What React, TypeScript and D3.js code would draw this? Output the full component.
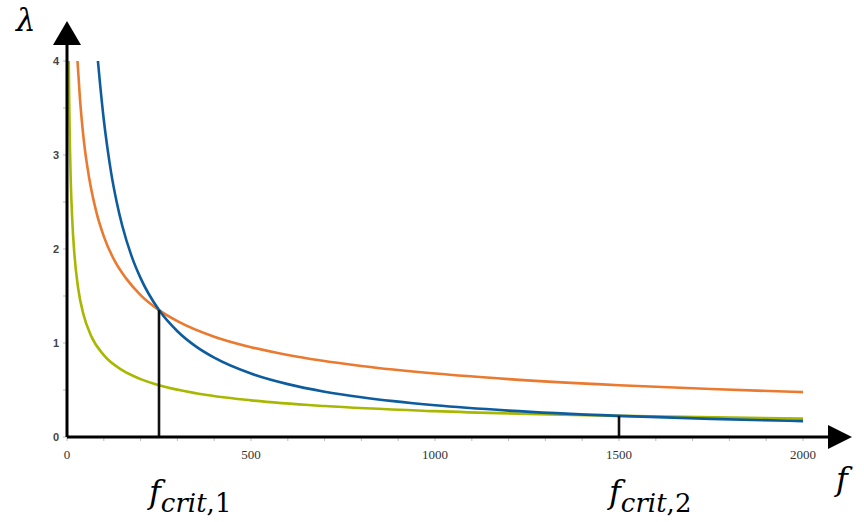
import React from "react";
import * as d3 from "d3";

// curves: [f, lambda]
const blue: [number, number][] = [
    [84, 4.0], [90, 3.75], [100, 3.375], [110, 3.07], [120, 2.81], [135, 2.5],
    [150, 2.25], [175, 1.93], [200, 1.69], [250, 1.35], [300, 1.125], [350, 0.964],
    [400, 0.844], [500, 0.675], [600, 0.5625], [700, 0.482], [800, 0.422],
    [1000, 0.3375], [1200, 0.281], [1500, 0.225], [1750, 0.193], [2000, 0.169],
];
const orange: [number, number][] = [
    [28.5, 4.0], [35, 3.61], [45, 3.18], [60, 2.76], [80, 2.39], [100, 2.135],
    [130, 1.87], [160, 1.69], [200, 1.51], [250, 1.35], [300, 1.233], [400, 1.067],
    [500, 0.955], [600, 0.872], [800, 0.755], [1000, 0.675], [1200, 0.616],
    [1500, 0.551], [1750, 0.51], [2000, 0.477],
];
const green: [number, number][] = [
    [4.74, 4.0], [6, 3.56], [8, 3.08], [10, 2.75], [14, 2.33], [20, 1.95],
    [30, 1.59], [45, 1.3], [65, 1.08], [100, 0.871], [150, 0.711], [200, 0.616],
    [250, 0.551], [350, 0.466], [500, 0.39], [700, 0.329], [1000, 0.275],
    [1500, 0.225], [2000, 0.195],
];

// critical points (f, lambda)
const crits: [number, number][] = [[250, 1.35], [1500, 0.225]];
const critLabels = ["1", "2"];

const xTicks = [0, 500, 1000, 1500, 2000];
const yTicks = [0, 1, 2, 3, 4];

const W = 864, H = 522;
const x0 = 67, x1 = 803, y0 = 437, y1 = 61;
const mathFont = "DejaVu Serif";

export default function App() {
    const x = d3.scaleLinear().domain([0, 2000]).range([x0, x1]);
    const y = d3.scaleLinear().domain([0, 4]).range([y0, y1]);
    const line = d3.line<[number, number]>()
        .x(d => x(d[0]))
        .y(d => y(d[1]))
        .curve(d3.curveMonotoneX);

    const minorX = d3.range(0, 2001, 100);
    const minorY = d3.range(0, 4.01, 0.5);

    const series: { d: [number, number][], color: string }[] = [
        { d: green, color: "#a8b800" },
        { d: orange, color: "#ea7a2f" },
        { d: blue, color: "#0d5c9e" },
    ];

    return (
        <svg width={W} height={H} style={{ position: "absolute", left: 0, top: 0, background: "#fff" }}>
            {/* minor ticks */}
            {minorX.map(v => (
                <line key={"mx" + v} x1={x(v)} x2={x(v)} y1={y0} y2={y0 + 4} stroke="#bbb" strokeWidth={1} />
            ))}
            {minorY.map(v => (
                <line key={"my" + v} x1={x0 - 4} x2={x0} y1={y(v)} y2={y(v)} stroke="#bbb" strokeWidth={1} />
            ))}
            {xTicks.map(v => (
                <text key={"xt" + v} x={x(v)} y={y0 + 22} textAnchor="middle"
                    fontFamily="Liberation Serif" fontSize={13} fill="#333">{v}</text>
            ))}
            {yTicks.map(v => (
                <text key={"yt" + v} x={x0 - 8} y={y(v) + 4} textAnchor="end"
                    fontFamily="Liberation Sans" fontSize={11} fontWeight="bold" fill="#444">{v}</text>
            ))}

            {/* curves */}
            {series.map((s, i) => (
                <path key={i} d={line(s.d) ?? ""} fill="none" stroke={s.color} strokeWidth={2.6} />
            ))}

            {/* critical verticals */}
            {crits.map((c, i) => (
                <line key={"c" + i} x1={x(c[0])} x2={x(c[0])} y1={y0} y2={y(c[1])} stroke="#111" strokeWidth={2.6} />
            ))}

            {/* axes with arrows */}
            <line x1={x0} x2={830} y1={y0} y2={y0} stroke="#000" strokeWidth={3} />
            <path d={`M828,${y0 - 12} L852,${y0} L828,${y0 + 12} Z`} fill="#000" />
            <line x1={x0} x2={x0} y1={y0} y2={44} stroke="#000" strokeWidth={3} />
            <path d={`M${x0 - 14},45 L${x0},21 L${x0 + 14},45 Z`} fill="#000" />

            <text x={16} y={31} fontFamily={mathFont} fontStyle="italic" fontSize={31}>λ</text>
            <text x={836} y={490} fontFamily={mathFont} fontStyle="italic" fontSize={32}>f</text>

            {crits.map((c, i) => (
                <text key={"cl" + i} x={x(c[0]) - 10} y={503} fontFamily={mathFont} fontSize={32}>
                    <tspan fontStyle="italic">f</tspan>
                    <tspan fontStyle="italic" fontSize={26} dy={9}>crit</tspan>
                    <tspan fontSize={26}>,{critLabels[i]}</tspan>
                </text>
            ))}
        </svg>
    );
}
